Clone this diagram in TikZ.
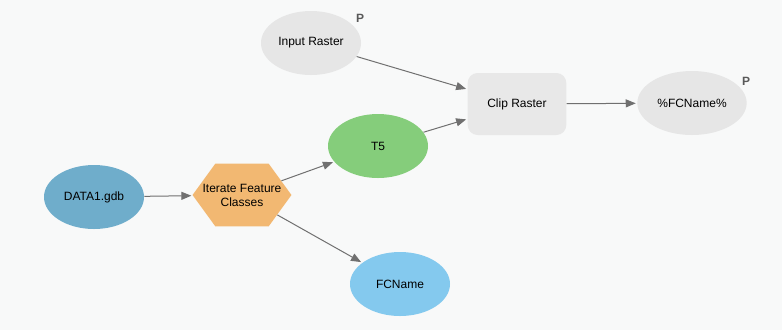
\documentclass[tikz,border=0pt]{standalone}
\usepackage{fontspec}
\setmainfont{Liberation Sans}
\usetikzlibrary{shapes.geometric,shapes.symbols,arrows.meta}
\definecolor{bgcol}{HTML}{F8F9F9}
\definecolor{paramgray}{HTML}{E6E6E6}
\definecolor{toolgray}{HTML}{E8E8E8}
\definecolor{datablue}{HTML}{6FADCB}
\definecolor{iterorange}{HTML}{F2B872}
\definecolor{valgreen}{HTML}{85CD7B}
\definecolor{valblue}{HTML}{84C9EE}
\definecolor{linkgray}{HTML}{707070}
\begin{document}
\begin{tikzpicture}[
    x=0.75pt, y=-0.75pt,
    font=\fontsize{9}{10.5}\selectfont,
    oval/.style={
        ellipse,
        inner sep=0pt,
        minimum width=75pt,
        minimum height=48pt
    },
    param/.style={oval, fill=paramgray},
    dataset/.style={oval, fill=datablue},
    value/.style={oval, fill=valgreen},
    varname/.style={oval, fill=valblue},
    tool/.style={
        rectangle,
        rounded corners=7.5pt,
        fill=toolgray,
        minimum width=74pt,
        minimum height=46.5pt
    },
    iterator/.style={
        signal,
        signal to=west and east,
        signal pointer angle=108,
        fill=iterorange,
        align=center,
        inner xsep=-9.5pt,
        inner ysep=1pt,
        minimum width=0pt,
        minimum height=47pt
    },
    plabel/.style={text=black!65, font=\fontsize{9}{10}\selectfont\bfseries},
    arrow/.style={-{Triangle[length=7.5pt,width=6pt]}, linkgray, line width=0.75pt, shorten >=1pt}
]

% ===== Canvas =====
\fill[bgcol] (0,0) rectangle (782,330);
\useasboundingbox (0,0) rectangle (782,330);

% ===== Inputs =====
\node[dataset]  (gdb)   at (94,197)  {DATA1.gdb};
\node[param]    (inras) at (311,43)  {Input Raster};
\node[plabel]   (pin)   at (360,18)  {P};

% ===== Iteration =====
\node[iterator] (iter)  at (242,195) {Iterate Feature\\Classes};
\node[value]    (tfive) at (378,146) {T5};
\node[varname]  (fcn)   at (400,284) {FCName};

% ===== Tool and output =====
\node[tool]     (clip)  at (517,104) {Clip Raster};
\node[param]    (outras) at (692,103) [minimum width=82pt] {\%FCName\%};
\node[plabel]   (pout)  at (746,81)  {P};

% ===== Arrows =====
\draw[arrow] (gdb) -- (iter);
\draw[arrow] (iter) -- (tfive);
\draw[arrow] (iter) -- (fcn);
\draw[arrow] (inras) -- (clip);
\draw[arrow] (tfive) -- (clip);
\draw[arrow] (clip) -- (outras);

\end{tikzpicture}
\end{document}
